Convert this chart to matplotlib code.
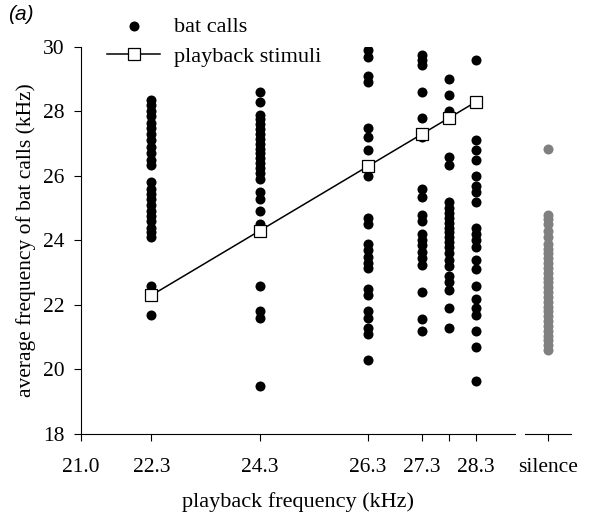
import numpy as np
import matplotlib.pyplot as plt

plt.rcParams['font.family'] = ['Liberation Serif', 'DejaVu Serif']

# playback frequencies (kHz)
stim_freqs = [22.3, 24.3, 26.3, 27.3, 27.8, 28.3]
tick_pos = [21.0, 22.3, 24.3, 26.3, 27.3, 27.8, 28.3]
tick_labels = ["21.0", "22.3", "24.3", "26.3", "27.3", "", "28.3"]

# average call frequencies for each playback (kHz)
calls_223 = [28.35, 28.2, 28.0, 27.85, 27.65, 27.5, 27.3, 27.1, 26.9, 26.7, 26.5, 26.35,
             25.8, 25.6, 25.45, 25.3, 25.1, 24.9, 24.75, 24.6, 24.4, 24.25, 24.1,
             22.6, 21.7]
calls_243 = [28.6, 28.3, 27.9, 27.75, 27.6, 27.45, 27.3, 27.15, 27.0, 26.85, 26.7, 26.55,
             26.4, 26.25, 26.1, 25.9, 25.5, 25.3, 24.9, 24.5, 24.3,
             22.6, 21.8, 21.6, 19.5]
calls_263 = [29.9, 29.7, 29.1, 28.9, 27.5, 27.2, 26.8, 26.0,
             24.7, 24.5, 23.9, 23.7, 23.5, 23.3, 23.15, 22.5, 22.3,
             21.8, 21.6, 21.3, 21.1, 20.3]
calls_273 = [29.75, 29.6, 29.45, 28.6, 27.8, 27.2, 25.6, 25.35, 24.8, 24.6,
             24.2, 24.0, 23.85, 23.65, 23.45, 23.25, 22.4, 21.55, 21.2]
calls_278 = [29.0, 28.5, 28.0, 27.8, 26.6, 26.35, 25.2, 25.0, 24.85, 24.7, 24.55, 24.4,
             24.25, 24.1, 23.95, 23.8, 23.6, 23.4, 23.2, 22.9, 22.7, 22.45, 21.9, 21.3]
calls_283 = [29.6, 27.1, 26.8, 26.5, 26.0, 25.7, 25.5, 25.2, 24.4, 24.2, 24.0, 23.8,
             23.4, 23.1, 22.6, 22.2, 21.9, 21.7, 21.2, 20.7, 19.65]
calls_silence = [26.85, 24.8, 24.65, 24.5, 24.3, 24.1, 23.9, 23.75, 23.6, 23.45, 23.3,
                 23.15, 23.0, 22.85, 22.7, 22.55, 22.4, 22.25, 22.1, 21.95, 21.8,
                 21.65, 21.5, 21.35, 21.2, 21.05, 20.9, 20.75, 20.6]

calls = [calls_223, calls_243, calls_263, calls_273, calls_278, calls_283]

fig = plt.figure(figsize=(6.14, 5.21), dpi=100)
ax = fig.add_axes([0.132, 0.167, 0.707, 0.743])
ax2 = fig.add_axes([0.855, 0.167, 0.075, 0.743], sharey=ax)

for f, c in zip(stim_freqs, calls):
    ax.scatter([f] * len(c), c, s=52, color="black", zorder=2, linewidths=0)

ax.plot(stim_freqs, stim_freqs, color="black", lw=1.1, marker="s", ms=8.5,
        mfc="white", mec="black", mew=0.9, zorder=3)

ax2.scatter([0] * len(calls_silence), calls_silence, s=52, color="#808080",
            linewidths=0, zorder=2)

ax.set_xlim(21.0, 29.02)
ax.set_ylim(18, 30)
ax.set_xticks(tick_pos)
ax.set_xticklabels(tick_labels)
ax.set_yticks(np.arange(18, 31, 2))
for s in ["top", "right"]:
    ax.spines[s].set_visible(False)
ax.tick_params(labelsize=15.5, length=5, direction="out", width=0.8)
ax.tick_params(axis="x", pad=12)
ax.tick_params(axis="y", pad=7)
ax.set_xlabel("playback frequency (kHz)", fontsize=16, labelpad=11)
ax.set_ylabel("average frequency of bat calls (kHz)", fontsize=15.5, labelpad=5)

ax2.set_xlim(-1, 1)
for s in ["top", "right", "left"]:
    ax2.spines[s].set_visible(False)
ax2.set_xticks([0])
ax2.set_xticklabels(["silence"])
ax2.tick_params(axis="y", left=False, labelleft=False)
ax2.tick_params(axis="x", labelsize=15.5, length=5, width=0.8, pad=12)

# legend
h1 = ax.scatter([], [], s=52, color="black", linewidths=0)
h2, = ax.plot([], [], color="black", lw=1.1, marker="s", ms=8.5,
              mfc="white", mec="black", mew=0.9)
leg = fig.legend([h1, h2], ["bat calls", "playback stimuli"], loc="upper left",
                 bbox_to_anchor=(107 / 614, 1 - 16 / 521), frameon=False, fontsize=16,
                 handlelength=2.4, handletextpad=0.6, labelspacing=0.45,
                 borderpad=0, borderaxespad=0)

fig.text(0.013, 0.99, "(a)", fontsize=15, style="italic", family="Liberation Sans",
         va="top", ha="left")

fig.savefig("out.png", dpi=100)
